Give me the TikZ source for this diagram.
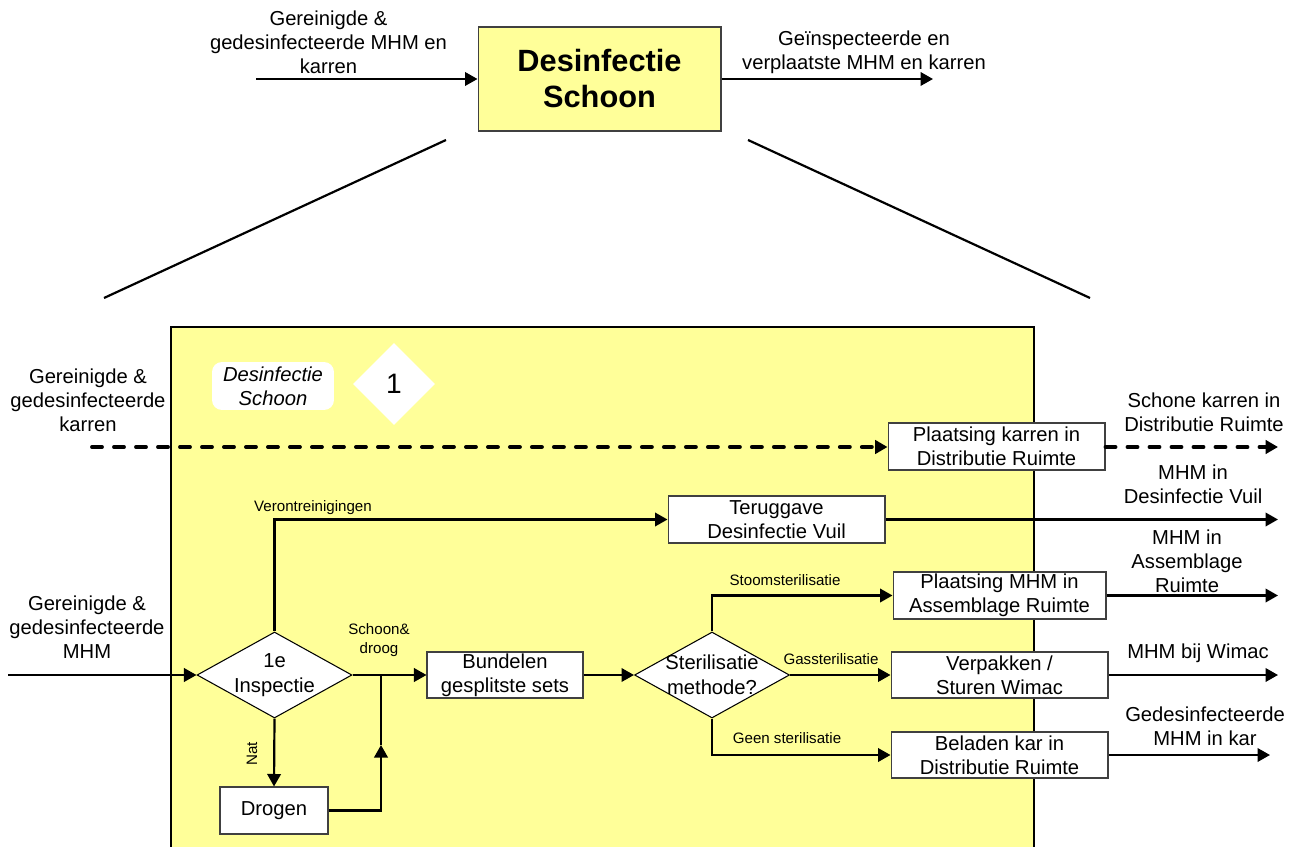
\documentclass[tikz,border=0pt]{standalone}
\usepackage{fontspec}
\setmainfont{Liberation Sans}
\usetikzlibrary{arrows.meta,shapes.geometric}
\definecolor{panelyellow}{HTML}{FFFF99}
\definecolor{boxline}{HTML}{404040}

\begin{document}
\begin{tikzpicture}[x=0.02cm,y=-0.02cm,
  txt/.style={align=center,font=\fontsize{11.5}{13.6}\selectfont,inner sep=0pt},
  lbl/.style={align=center,font=\fontsize{8.6}{10.8}\selectfont,inner sep=0pt},
  procbox/.style={draw=boxline,line width=0.6pt,fill=white,minimum width=4.34cm,
    minimum height=0.94cm,inner sep=0pt,align=center,font=\fontsize{11.5}{13.6}\selectfont},
  decision/.style={diamond,draw=black,line width=0.6pt,fill=white,inner sep=0pt,
    minimum width=3.1cm,minimum height=1.72cm},
  flow/.style={line width=1.25pt,-{Triangle[length=0.25cm,width=0.27cm]}},
  plain/.style={line width=1.25pt},
  dashflow/.style={flow,line width=2.2pt,line cap=round,dash pattern=on 0.2cm off 0.24cm}
]
\useasboundingbox (0,0) rectangle (1300,847);

% ---------- overview process ----------
\node[draw=boxline,line width=0.6pt,fill=panelyellow,minimum width=4.86cm,minimum height=2.08cm,
  inner sep=0pt,align=center,font=\bfseries\fontsize{17.5}{20.5}\selectfont]
  (topbox) at (599.5,79) {Desinfectie\\Schoon};
\coordinate (topin) at (256,79);
\coordinate (topout) at (933,79);
\draw[flow] (topin) -- (topbox.west);
\draw[flow] (topbox.east) -- (topout);
\node[txt] (topinlbl) at (328.5,42.5) {Gereinigde \&\\gedesinfecteerde MHM en\\karren};
\node[txt] (topoutlbl) at (864,52) {Geïnspecteerde en\\verplaatste MHM en karren};

% zoom lines
\coordinate (zla) at (446,140);
\coordinate (zlb) at (104,298);
\coordinate (zra) at (748,140);
\coordinate (zrb) at (1090,298);
\draw[plain] (zla) -- (zlb);
\draw[plain] (zra) -- (zrb);

% ---------- detail panel ----------
\fill[panelyellow] (171,327) rectangle (1034,847);
\draw[line width=0.8pt] (171,847) -- (171,327) -- (1034,327) -- (1034,847);

\node[fill=white,rounded corners=0.2cm,minimum width=2.44cm,minimum height=0.96cm,inner sep=0pt,
  align=center,font=\itshape\fontsize{11.5}{13.6}\selectfont] (tag) at (273,386) {Desinfectie\\Schoon};
\node[diamond,fill=white,inner sep=0pt,minimum width=1.64cm,minimum height=1.64cm] (badge) at (394,384) {};
\node[font=\fontsize{16}{18}\selectfont,inner sep=0pt] (badgenum) at (badge) {1};

% process boxes
\node[procbox] (karbox) at (996.5,446.5) {Plaatsing karren in\\Distributie Ruimte};
\node[procbox] (terug) at (776.5,519.5) {Teruggave\\Desinfectie Vuil};
\node[procbox,minimum width=4.26cm] (assem) at (999.5,595.5) {Plaatsing MHM in\\Assemblage Ruimte};
\node[procbox,minimum height=0.92cm] (wimac) at (999.5,675) {Verpakken /\\Sturen Wimac};
\node[procbox,minimum height=0.92cm] (beladen) at (999.5,755) {Beladen kar in\\Distributie Ruimte};
\node[procbox,minimum width=3.12cm,minimum height=0.92cm] (bundel) at (505,675) {Bundelen\\gesplitste sets};
\node[procbox,minimum width=2.16cm] (drogen) at (274,810.5) {Drogen};

% decisions
\node[decision] (insp) at (274.5,675) {};
\node[txt,font=\fontsize{11.5}{14}\selectfont] (insptxt) at (insp) {1e\\Inspectie};
\node[decision] (ster) at (712,675) {};
\node[txt,font=\fontsize{11.5}{14}\selectfont] (stertxt) at (ster) {Sterilisatie\\methode?};

% carts flow (dashed)
\coordinate (cartin) at (92,447);
\coordinate (cartout) at (1278,447);
\draw[dashflow] (cartin) -- (karbox.west |- cartin);
\draw[dashflow] (karbox.east |- cartin) -- (cartout);

% instrument flow
\coordinate (mhmin) at (8,675);
\draw[flow] (mhmin) -- (insp.west);
\draw[flow] (insp.north) |- (terug.west);
\coordinate (vuilout) at (1278,519.5);
\draw[flow] (terug.east) -- (vuilout);

\coordinate (join) at (381,675);
\coordinate (joinup) at (381,745);
\draw[flow] (insp.east) -- (bundel.west);
\draw[flow] (insp.south) -- (drogen.north);
\draw[flow] (drogen.east) -| (joinup);
\draw[plain] (joinup) -- (join);

\draw[flow] (bundel.east) -- (ster.west);
\draw[flow] (ster.north) |- (assem.west);
\draw[flow] (ster.east) -- (wimac.west);
\draw[flow] (ster.south) |- (beladen.west);

\coordinate (assemout) at (1278,595.5);
\coordinate (wimacout) at (1278,675);
\coordinate (beladenout) at (1270,755);
\draw[flow] (assem.east) -- (assemout);
\draw[flow] (wimac.east) -- (wimacout);
\draw[flow] (beladen.east) -- (beladenout);

% flow labels
\node[txt] (cartinlbl) at (88,400) {Gereinigde \&\\gedesinfecteerde\\karren};
\node[txt] (mhminlbl) at (87,627) {Gereinigde \&\\gedesinfecteerde\\MHM};
\node[txt] (cartoutlbl) at (1204,412) {Schone karren in\\Distributie Ruimte};
\node[txt] (vuiloutlbl) at (1193,484) {MHM in\\Desinfectie Vuil};
\node[txt] (assemoutlbl) at (1187,561) {MHM in\\Assemblage\\Ruimte};
\node[txt] (wimacoutlbl) at (1198,653) {MHM bij Wimac};
\node[txt] (beladenoutlbl) at (1205,726) {Gedesinfecteerde\\MHM in kar};

\node[lbl] (verlbl) at (313,508) {Verontreinigingen};
\node[lbl] (schoonlbl) at (379,640) {Schoon\&\\droog};
\node[lbl,rotate=90] (natlbl) at (252,754) {Nat};
\node[lbl] (stoomlbl) at (785,580) {Stoomsterilisatie};
\node[lbl] (gaslbl) at (831,659) {Gassterilisatie};
\node[lbl] (geenlbl) at (787,738) {Geen sterilisatie};

\end{tikzpicture}
\end{document}
